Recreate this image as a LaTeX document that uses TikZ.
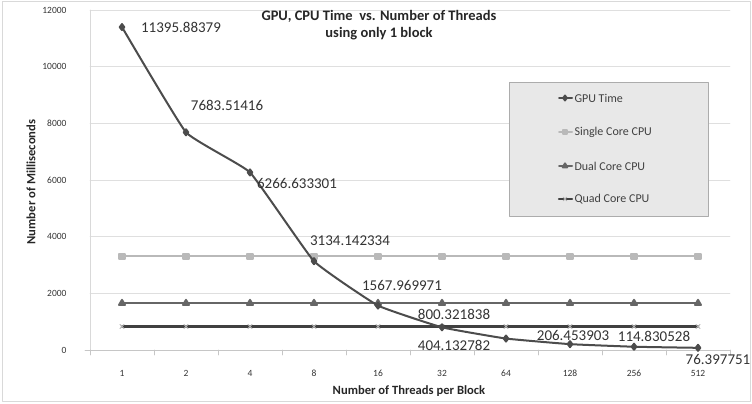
\documentclass[tikz,border=0pt]{standalone}
\usepackage{fontspec}
\setmainfont{Carlito}
\usetikzlibrary{plotmarks}

\tikzset{
  gridline/.style={gray!25,line width=0.8pt},
  ticklab/.style={font=\fontsize{9.5}{11}\selectfont,text=black!80},
  datalab/.style={font=\fontsize{15}{17}\selectfont,text=black!80},
  axistitle/.style={font=\fontsize{12.6}{14}\selectfont\bfseries,text=black!85},
  legendlab/.style={font=\fontsize{12}{14}\selectfont,text=black!75,anchor=west},
  gpuline/.style={black!70,line width=2pt,mark=diamond*,mark size=3pt},
  singleline/.style={gray!55,line width=2pt,mark=square*,mark size=2.8pt},
  dualline/.style={black!60,line width=2pt,mark=triangle*,mark size=3.4pt},
  quadline/.style={black!75,line width=2.4pt,mark=x,mark size=3pt,mark options={gray!60,line width=1pt}}
}

\begin{document}
\begin{tikzpicture}[x=1pt,y=1pt,line cap=round,line join=round]
\useasboundingbox (0,0) rectangle (752,404);
\draw[gray!30,line width=1pt] (2,2) rectangle (750,402);
% grid and axes
\foreach \v in {2000,4000,...,12000} {\draw[gridline] (90,54+\v*0.028333) -- (730,54+\v*0.028333);}
\foreach \v in {0,2000,...,12000} {\node[ticklab,anchor=east] at (70,54+\v*0.028333) {\v};}
\draw[gray!45,line width=0.8pt] (90,54) -- (730,54);
\draw[gray!30,line width=0.8pt] (90,54) -- (90,394);
\draw[gray!45,line width=0.8pt] (85,54) -- (90,54);
\foreach \i in {0,...,10} {\draw[gray!45,line width=0.8pt] (90+64*\i,54) -- (90+64*\i,49);}
\foreach \t [count=\i from 0] in {1,2,4,8,16,32,64,128,256,512} {\node[ticklab] at (122+64*\i,31) {\t};}
\node[axistitle] at (409,13) {Number of Threads per Block};
\node[axistitle,rotate=90] at (31,222) {Number of Milliseconds};
\node[axistitle,align=center,font=\fontsize{14.5}{17}\selectfont\bfseries] at (379,379) {GPU, CPU Time\ \ vs. Number of Threads\\using only 1 block};
% series
\begin{scope}[shift={(122pt,54pt)},x=64pt,y=0.028333pt]
\draw[singleline] plot coordinates {(0,3300) (1,3300) (2,3300) (3,3300) (4,3300) (5,3300) (6,3300) (7,3300) (8,3300) (9,3300)};
\draw[dualline] plot coordinates {(0,1650) (1,1650) (2,1650) (3,1650) (4,1650) (5,1650) (6,1650) (7,1650) (8,1650) (9,1650)};
\draw[quadline] plot coordinates {(0,830) (1,830) (2,830) (3,830) (4,830) (5,830) (6,830) (7,830) (8,830) (9,830)};
\draw[gpuline] plot[smooth,tension=0.2] coordinates {(0,11395.88) (1,7683.51) (2,6266.63) (3,3134.14) (4,1567.97) (5,800.32) (6,404.13) (7,206.45) (8,114.83) (9,76.40)};
\end{scope}
% data labels
\node[datalab] at (181,377) {11395.88379};
\node[datalab] at (227,299) {7683.51416};
\node[datalab] at (297,221) {6266.633301};
\node[datalab] at (350,163) {3134.142334};
\node[datalab] at (402,119) {1567.969971};
\node[datalab] at (454,90) {800.321838};
\node[datalab] at (454,59) {404.132782};
\node[datalab] at (573,69) {206.453903};
\node[datalab] at (654,68) {114.830528};
\node[datalab] at (718,45) {76.397751};
% legend
\draw[gray!65,fill=gray!18,line width=0.8pt] (509,188) rectangle (708,322);
\draw[gpuline,mark size=2.4pt,mark indices={2}] plot coordinates {(559,306) (565,306) (572,306)};
\node[legendlab] at (571,306) {GPU Time};
\draw[singleline,mark size=2pt,mark indices={2}] plot coordinates {(559,272) (565,272) (572,272)};
\node[legendlab] at (571,272) {Single Core CPU};
\draw[dualline,mark size=2.6pt,mark indices={2}] plot coordinates {(559,238) (565,238) (572,238)};
\node[legendlab] at (571,238) {Dual Core CPU};
\draw[quadline,mark size=2.4pt,mark indices={2}] plot coordinates {(559,205) (565,205) (572,205)};
\node[legendlab] at (571,205) {Quad Core CPU};
\end{tikzpicture}
\end{document}
